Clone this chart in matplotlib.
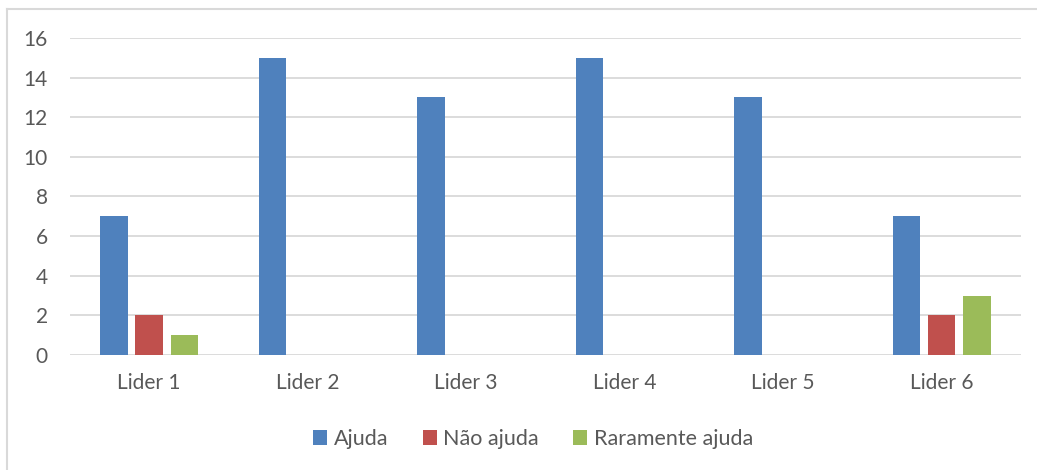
import matplotlib.pyplot as plt
import numpy as np

# Data
lideres = ['Lider 1', 'Lider 2', 'Lider 3', 'Lider 4', 'Lider 5', 'Lider 6']
ajuda = [7, 15, 13, 15, 13, 7]
nao_ajuda = [2, 0, 0, 0, 0, 2]
raramente_ajuda = [1, 0, 0, 0, 0, 3]

series = ['Ajuda', 'Não ajuda', 'Raramente ajuda']
cores = ['#4F81BD', '#C0504D', '#9BBB59']
cinza = '#595959'

plt.rcParams['font.family'] = ['Lato', 'DejaVu Sans']

fig = plt.figure(figsize=(10.37, 4.70), dpi=100)
ax = fig.add_axes([0.0675, 0.2447, 0.917, 0.6745])

# cadre gris (haut et gauche seulement visibles)
fig.add_artist(plt.Line2D([7 / 1037, 1], [1 - 9 / 470, 1 - 9 / 470],
                          transform=fig.transFigure, color='#D9D9D9', lw=1.5))
fig.add_artist(plt.Line2D([7 / 1037, 7 / 1037], [0, 1 - 9 / 470],
                          transform=fig.transFigure, color='#D9D9D9', lw=1.5))

x = np.arange(len(lideres))
largeur = 0.174
pas = 0.222
for k, (vals, nom, c) in enumerate(zip([ajuda, nao_ajuda, raramente_ajuda],
                                       series, cores)):
    ax.bar(x + (k - 1) * pas, vals, largeur, color=c, label=nom, zorder=3)

ax.set_xlim(-0.5, 5.5)
ax.set_ylim(0, 16)
ax.set_yticks(range(0, 17, 2))
ax.set_xticks(x)
ax.set_xticklabels(lideres)
ax.grid(axis='y', color='#D9D9D9', lw=1.3, zorder=0)
for s in ax.spines.values():
    s.set_visible(False)
ax.tick_params(axis='both', length=0, colors=cinza, labelsize=15)
ax.tick_params(axis='x', pad=13)
ax.tick_params(axis='y', pad=16)

leg = fig.legend(loc='center', bbox_to_anchor=(533 / 1037, 1 - 439 / 470),
                 ncol=3, frameon=False, fontsize=15.5, handlelength=0.65,
                 handleheight=0.65, handletextpad=0.3, columnspacing=1.6)
for t in leg.get_texts():
    t.set_color(cinza)

plt.savefig('out.png', dpi=100)
